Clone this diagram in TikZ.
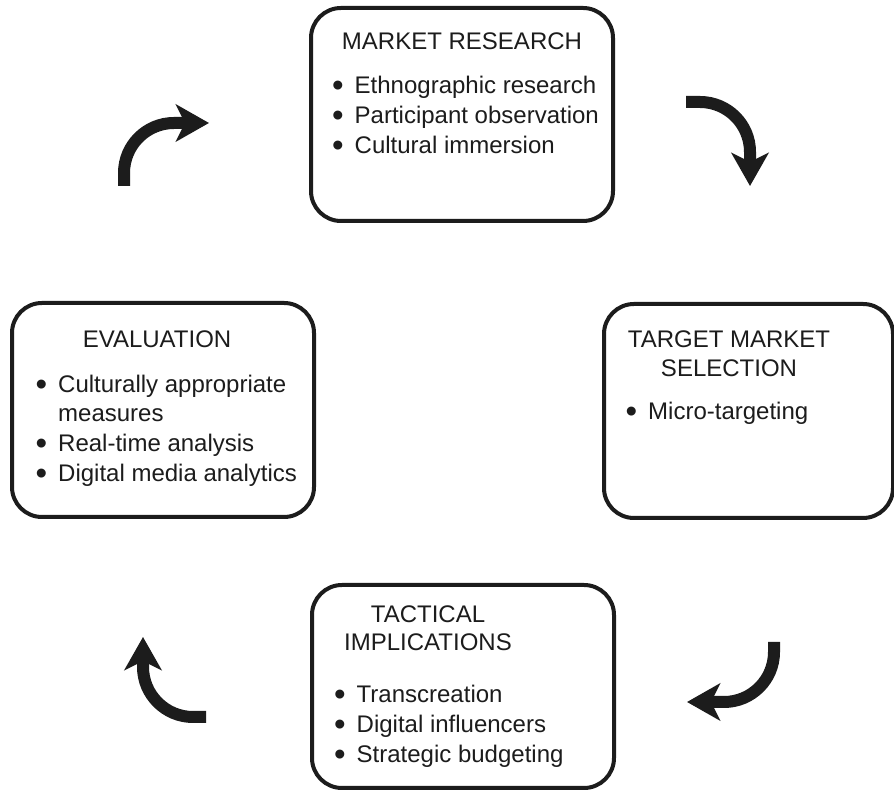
\documentclass[tikz,border=0pt]{standalone}
\usepackage{fontspec}
\setmainfont{Liberation Sans}
\usetikzlibrary{arrows.meta}
\definecolor{ink}{HTML}{1C1C1C}
\tikzset{
  stage/.style={draw=ink, line width=4pt, rounded corners=30pt, inner sep=0pt},
  ttl/.style={anchor=base, inner sep=0pt, text=ink, font=\fontsize{24}{29}\selectfont},
  itm/.style={anchor=base west, inner sep=0pt, text=ink, font=\fontsize{24}{29}\selectfont},
  bigarrow/.style={draw=ink, line width=12pt, -{Stealth[length=33pt,width=37pt,inset=9pt]}}
}
\newcommand{\bul}{\makebox[21.5pt][l]{\hspace{-1pt}\smash{\raisebox{-2.5pt}{\fontsize{33}{33}\selectfont •}}}}
\begin{document}
\begin{tikzpicture}[x=1pt,y=1pt]
\useasboundingbox[fill=white] (0,0) rectangle (894,791);
% boxes
\node[stage, minimum width=302pt, minimum height=213pt] (mr) at (462,676.5) {};
\node[stage, minimum width=302pt, minimum height=214pt] (ev) at (163,381) {};
\node[stage, minimum width=289pt, minimum height=214pt] (tm) at (748.5,380) {};
\node[stage, minimum width=302pt, minimum height=203pt] (ti) at (463,104.5) {};
% market research
\node[ttl] (mrt) at (462,741) {MARKET RESEARCH};
\node[itm] (mr1) at (333,697) {\bul Ethnographic research};
\node[itm] (mr2) at (333,667) {\bul Participant observation};
\node[itm] (mr3) at (333,637) {\bul Cultural immersion};
% target market selection
\node[ttl] (tmt1) at (729,443) {TARGET MARKET};
\node[ttl] (tmt2) at (729,414) {SELECTION};
\node[itm] (tm1) at (626.5,371) {\bul Micro-targeting};
% evaluation
\node[ttl] (evt) at (157,443) {EVALUATION};
\node[itm] (ev1) at (36.5,398) {\bul Culturally appropriate};
\node[itm] (ev1b) at (36.5,369) {\hspace{21.5pt}measures};
\node[itm] (ev2) at (36.5,339) {\bul Real-time analysis};
\node[itm] (ev3) at (36.5,309) {\bul Digital media analytics};
% tactical implications
\node[ttl] (tit1) at (428,168) {TACTICAL};
\node[ttl] (tit2) at (428,140) {IMPLICATIONS};
\node[itm] (ti1) at (335,88) {\bul Transcreation};
\node[itm] (ti2) at (335,58) {\bul Digital influencers};
\node[itm] (ti3) at (335,28) {\bul Strategic budgeting};
% arrows
\coordinate (a1s) at (124,605);
\coordinate (a1e) at (209,668);
\coordinate (a2s) at (686,689);
\coordinate (a2e) at (750,605);
\coordinate (a3s) at (774,149);
\coordinate (a3e) at (687,89);
\coordinate (a4s) at (206,74);
\coordinate (a4e) at (143,154);
\draw[bigarrow] (a1s) -- (124,618) arc (180:90:50) -- (a1e);
\draw[bigarrow] (a2s) -- (700,689) arc (90:0:50) -- (a2e);
\draw[bigarrow] (a3s) -- (774,139) arc (0:-90:50) -- (a3e);
\draw[bigarrow] (a4s) -- (193,74) arc (-90:-180:50) -- (a4e);
\end{tikzpicture}
\end{document}
